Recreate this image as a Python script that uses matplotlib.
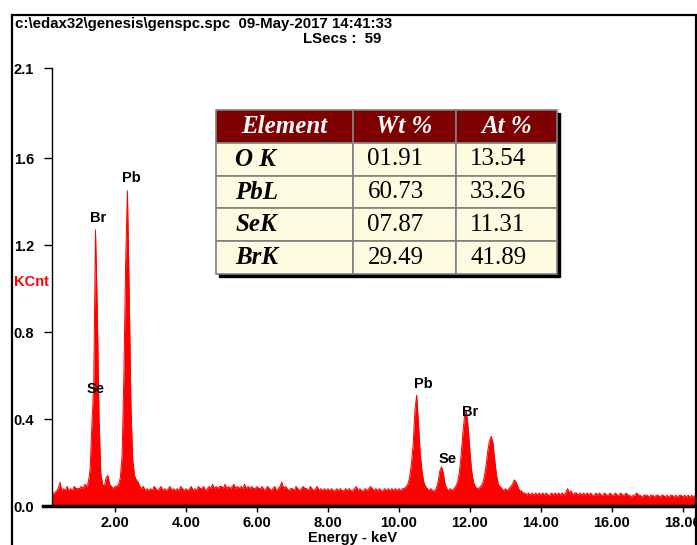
import numpy as np
import matplotlib
matplotlib.use("Agg")
import matplotlib.pyplot as plt
from matplotlib.patches import Rectangle

plt.rcParams["font.family"] = ["Liberation Sans", "DejaVu Sans"]

# spectrum, KCnt per 0.05 keV channel, one row per keV
e_step = 0.05
kcnt_rows = [
    [0, 0, 0, 0, 0.02, 0.06, 0.06, 0.07, 0.08, 0.11, 0.07, 0.08, 0.07, 0.09, 0.07, 0.08, 0.07, 0.09, 0.08, 0.08],
    [0.08, 0.09, 0.08, 0.10, 0.09, 0.11, 0.17, 0.38, 0.55, 1.27, 0.91, 0.40, 0.15, 0.10, 0.09, 0.13, 0.14, 0.10, 0.09, 0.08],
    [0.09, 0.09, 0.10, 0.13, 0.23, 0.60, 1.12, 1.45, 0.98, 0.45, 0.21, 0.14, 0.12, 0.11, 0.09, 0.08, 0.09, 0.07, 0.08, 0.07],
    [0.08, 0.07, 0.09, 0.08, 0.07, 0.08, 0.09, 0.07, 0.08, 0.07, 0.08, 0.09, 0.07, 0.08, 0.07, 0.08, 0.07, 0.09, 0.08, 0.07],
    [0.08, 0.07, 0.08, 0.09, 0.07, 0.08, 0.07, 0.09, 0.08, 0.08, 0.09, 0.07, 0.08, 0.09, 0.08, 0.10, 0.08, 0.09, 0.08, 0.09],
    [0.09, 0.08, 0.10, 0.08, 0.09, 0.08, 0.09, 0.10, 0.08, 0.09, 0.08, 0.09, 0.08, 0.10, 0.08, 0.09, 0.08, 0.09, 0.08, 0.08],
    [0.09, 0.08, 0.08, 0.09, 0.07, 0.08, 0.09, 0.08, 0.07, 0.08, 0.09, 0.07, 0.08, 0.09, 0.11, 0.08, 0.09, 0.08, 0.07, 0.08],
    [0.08, 0.07, 0.09, 0.08, 0.07, 0.08, 0.09, 0.08, 0.08, 0.07, 0.09, 0.08, 0.07, 0.08, 0.09, 0.07, 0.08, 0.07, 0.08, 0.07],
    [0.08, 0.07, 0.08, 0.07, 0.07, 0.08, 0.07, 0.08, 0.07, 0.07, 0.08, 0.07, 0.08, 0.07, 0.07, 0.08, 0.09, 0.07, 0.08, 0.07],
    [0.07, 0.08, 0.07, 0.08, 0.09, 0.08, 0.07, 0.08, 0.07, 0.08, 0.07, 0.07, 0.08, 0.07, 0.08, 0.07, 0.08, 0.07, 0.08, 0.07],
    [0.08, 0.07, 0.08, 0.08, 0.09, 0.10, 0.13, 0.19, 0.28, 0.44, 0.51, 0.38, 0.24, 0.16, 0.11, 0.09, 0.08, 0.07, 0.08, 0.07],
    [0.07, 0.08, 0.11, 0.16, 0.18, 0.15, 0.10, 0.08, 0.07, 0.08, 0.07, 0.08, 0.09, 0.11, 0.15, 0.23, 0.33, 0.42, 0.44, 0.36],
    [0.25, 0.16, 0.11, 0.09, 0.08, 0.08, 0.09, 0.10, 0.13, 0.18, 0.25, 0.30, 0.32, 0.29, 0.21, 0.14, 0.10, 0.09, 0.08, 0.07],
    [0.08, 0.07, 0.08, 0.09, 0.10, 0.12, 0.11, 0.09, 0.07, 0.07, 0.06, 0.06, 0.05, 0.06, 0.05, 0.06, 0.05, 0.06, 0.05, 0.06],
    [0.05, 0.06, 0.05, 0.06, 0.05, 0.05, 0.06, 0.05, 0.06, 0.05, 0.06, 0.05, 0.06, 0.05, 0.06, 0.08, 0.06, 0.07, 0.05, 0.06],
    [0.06, 0.05, 0.06, 0.05, 0.06, 0.05, 0.06, 0.05, 0.06, 0.05, 0.05, 0.06, 0.05, 0.06, 0.05, 0.05, 0.06, 0.05, 0.05, 0.06],
    [0.05, 0.05, 0.06, 0.05, 0.05, 0.06, 0.05, 0.05, 0.06, 0.05, 0.05, 0.04, 0.05, 0.05, 0.06, 0.05, 0.05, 0.04, 0.05, 0.05],
    [0.05, 0.04, 0.05, 0.05, 0.04, 0.05, 0.05, 0.04, 0.05, 0.05, 0.04, 0.05, 0.04, 0.05, 0.05, 0.04, 0.05, 0.04, 0.05, 0.05],
    [0.04, 0.05, 0.04, 0.05, 0.04, 0.05, 0.04, 0.05],
]

peak_labels = ["Br", "Pb", "Se", "Pb", "Se", "Br"]
peak_label_kev = [1.52, 2.45, 1.46, 10.70, 11.37, 12.00]
peak_label_kcnt = [1.326, 1.506, 0.536, 0.559, 0.218, 0.430]

x_ticks = [2, 4, 6, 8, 10, 12, 14, 16, 18]
x_ticklabels = ["2.00", "4.00", "6.00", "8.00", "10.00", "12.00", "14.00", "16.00", "18.00"]
y_top = 2.014
y_ticks = [0.0, 0.4, 0.8, 1.2, 1.6, y_top]
y_ticklabels = ["0.0", "0.4", "0.8", "1.2", "1.6", "2.1"]

table_header = ["Element", "Wt %", "At %"]
table_elements = ["O K", "PbL", "SeK", "BrK"]
table_wt = ["01.91", "60.73", "07.87", "29.49"]
table_at = ["13.54", "33.26", "11.31", "41.89"]

kcnt = np.concatenate([np.array(r, dtype=float) for r in kcnt_rows])
energy = np.arange(len(kcnt)) * e_step

W, H = 697, 545
fig = plt.figure(figsize=(W / 100, H / 100), dpi=100)

# outer frame
fig.add_artist(Rectangle((12 / W, -0.05), (696 - 12) / W, 1.05 - 15 / H,
                         transform=fig.transFigure, fill=False, ec="black", lw=1.6))

ax = fig.add_axes([52 / W, 1 - 506 / H, 644 / W, 438 / H])
ax.fill_between(energy, kcnt, 0, color="#ff0000", lw=0)
ax.plot(energy, kcnt, color="#ff0000", lw=0.7)
ax.set_xlim(0.225, 18.37)
ax.set_ylim(0, y_top)

for s in ["top", "right"]:
    ax.spines[s].set_visible(False)
ax.spines["bottom"].set_linewidth(2.5)
ax.spines["bottom"].set_bounds(0.225 - 9 / 35.5, 18.37)
ax.spines["left"].set_linewidth(1.0)

ax.set_xticks(x_ticks)
ax.set_xticklabels(x_ticklabels, fontsize=10.5, fontweight="bold")
ax.tick_params(axis="x", direction="out", length=4, width=1, pad=3)
ax.set_yticks(y_ticks)
ax.set_yticklabels(y_ticklabels, fontsize=10.5, fontweight="bold", ha="left")
ax.tick_params(axis="y", direction="out", length=6, width=1, pad=21.5)
ax.set_xlabel("Energy - keV", fontsize=10.5, fontweight="bold", x=0.466, labelpad=1)

ax.text(-0.059, 0.511, "KCnt", transform=ax.transAxes, color="#ff0000",
        fontsize=10.5, fontweight="bold", ha="left", va="center")

for lab, ex, ey in zip(peak_labels, peak_label_kev, peak_label_kcnt):
    ax.text(ex, ey, lab, fontsize=10.5, fontweight="bold", ha="center", va="center")

fig.text(15 / W, 1 - 24 / H, "c:\\edax32\\genesis\\genspc.spc  09-May-2017 14:41:33",
         fontsize=10.8, fontweight="bold", ha="left", va="center")
fig.text(381 / W, 1 - 39 / H, "LSecs :  59", fontsize=10.8, fontweight="bold",
         ha="right", va="center")

# results table
tx0, ty0, tw, th = 216, 110, 341, 164
tax = fig.add_axes([tx0 / W, 1 - (ty0 + th) / H, tw / W, th / H])
tax.axis("off")
tax.add_patch(Rectangle((0.01, -0.02), 1.0, 1.0, transform=tax.transAxes,
                        color="black", clip_on=False, zorder=0))
cell_text = [[e, w, a] for e, w, a in zip(table_elements, table_wt, table_at)]
tab = tax.table(cellText=cell_text, colLabels=table_header, bbox=[0, 0, 1, 1],
                colWidths=[137, 103, 101], cellLoc="left")
tab.auto_set_font_size(False)
for (r, c), cell in tab.get_celld().items():
    cell.set_edgecolor("#808080")
    cell.set_linewidth(1.2)
    cell.PAD = 0.14
    cell.get_text().set_fontfamily(["Liberation Serif", "DejaVu Serif"])
    cell.get_text().set_fontsize(18)
    if r == 0:
        cell.set_facecolor("#7f0000")
        cell.get_text().set_color("white")
        cell.get_text().set_fontweight("bold")
        cell.get_text().set_fontstyle("italic")
    else:
        cell.set_facecolor("#fffbe0")
        if c == 0:
            cell.get_text().set_fontweight("bold")
            cell.get_text().set_fontstyle("italic")

fig.savefig("out.png", dpi=100)
